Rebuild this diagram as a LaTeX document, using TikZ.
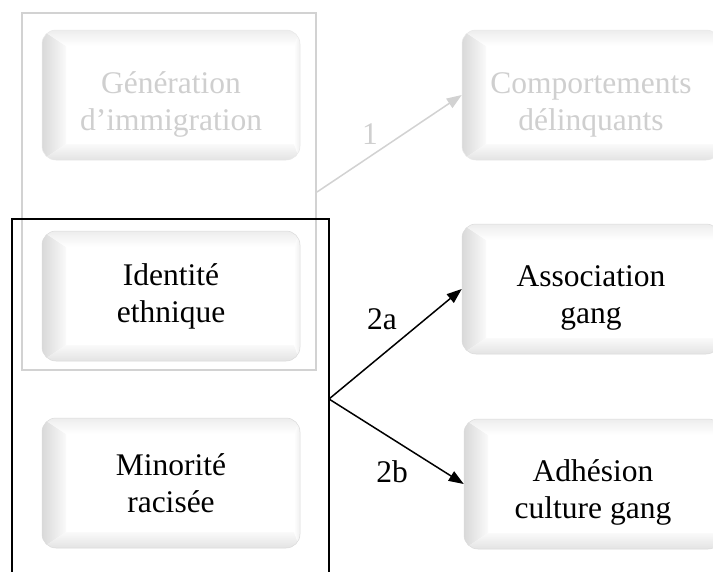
\documentclass[tikz,border=0pt]{standalone}
\usepackage{fontspec}
\setmainfont{Liberation Serif}
\usetikzlibrary{arrows.meta}
\begin{document}
\begin{tikzpicture}[x=1pt,y=-1pt,
  btn/.style={rounded corners=14pt, minimum width=258pt, minimum height=130pt, inner sep=0pt,
    align=center, draw=gray!28, line width=0.5pt, fill=white,
    font=\fontsize{31.5}{37}\selectfont,
    path picture={
      \coordinate (bSW) at (path picture bounding box.south west);
      \coordinate (bNW) at (path picture bounding box.north west);
      \coordinate (bSE) at (path picture bounding box.south east);
      \coordinate (bNE) at (path picture bounding box.north east);
      \shade[sharp corners, left color=gray!30, right color=gray!4]
        (bSW) -- (bNW) -- ([xshift=24pt,yshift=-16pt]bNW) -- ([xshift=24pt,yshift=16pt]bSW) -- cycle;
      \shade[sharp corners, top color=gray!4, bottom color=gray!22]
        (bSW) -- ([xshift=24pt,yshift=16pt]bSW) -- ([xshift=-6pt,yshift=16pt]bSE) -- (bSE) -- cycle;
      \shade[sharp corners, top color=gray!14, bottom color=white]
        (bNW) -- (bNE) -- ([xshift=-6pt,yshift=-16pt]bNE) -- ([xshift=24pt,yshift=-16pt]bNW) -- cycle;
      \shade[sharp corners, left color=white, right color=gray!12]
        (bNE) -- ([xshift=-6pt,yshift=-16pt]bNE) -- ([xshift=-6pt,yshift=16pt]bSE) -- (bSE) -- cycle;
    }},
  faded/.style={text=gray!38, draw=gray!18},
  lbl/.style={font=\fontsize{31.5}{37}\selectfont, inner sep=0pt},
  arr/.style={line width=1.5pt, -{Triangle[length=15pt,width=11pt]}},
]
\clip (0,0) rectangle (713,571);
\fill[white] (0,0) rectangle (713,571);

% nodes
\node[btn, faded] (gen) at (171,95) {\rule{0pt}{40pt}Génération\\d’immigration};
\node[btn] (ide) at (171,296) {Identité\\ethnique};
\node[btn] (min) at (171,483) {Minorité\\racisée};
\node[btn, faded] (comp) at (591,95) {\rule{0pt}{40pt}Comportements\\délinquants};
\node[btn] (asso) at (591,289) {\rule{0pt}{38pt}Association\\gang};
\node[btn] (adh) at (593,484) {\rule{0pt}{38pt}Adhésion\\culture gang};

% grouping frames
\draw[gray!35, line width=1.5pt] (22,13) rectangle (316,370);
\draw[black, line width=1.5pt] (12,580) -- (12,219) -- (329,219) -- (329,580);

\coordinate (gsrc) at (317,192);
\coordinate (bsrc) at (329,399);

% connectors
\draw[arr, gray!35] (gsrc) -- (comp.west);
\draw[arr, black] (bsrc) -- (asso.west);
\draw[arr, black] (bsrc) -- (adh.west);

% labels
\node[lbl, text=gray!38] (l1) at (370,134) {1};
\node[lbl] (l2a) at (382,319) {2a};
\node[lbl] (l2b) at (392,472) {2b};
\end{tikzpicture}
\end{document}
